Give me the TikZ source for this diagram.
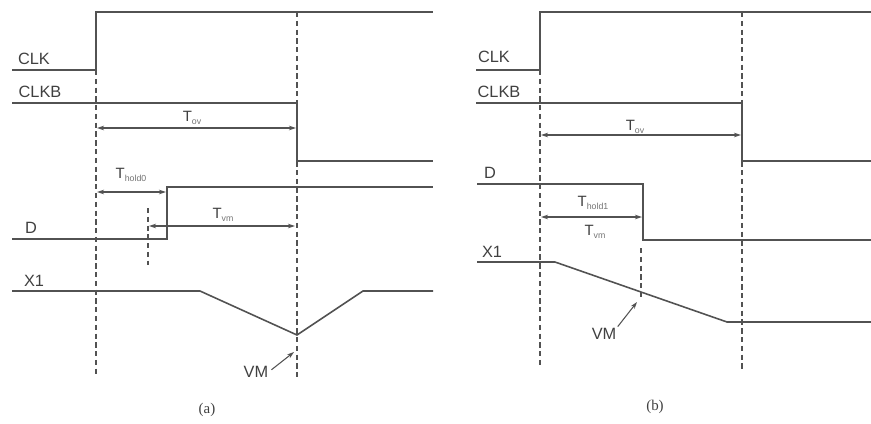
\documentclass[tikz,border=0pt]{standalone}
\usepackage{fontspec}
\setmainfont{Liberation Serif}
\setsansfont{Liberation Sans}
\usetikzlibrary{arrows.meta, positioning}
\tikzstyle{signal} = [draw=black!68, line width=0.9pt]
\tikzstyle{guide} = [draw=black!68, line width=0.6pt, dash pattern=on 3pt off 2pt]
\tikzstyle{dimarrow} = [draw=black!68, line width=0.6pt, {Stealth[length=4pt,width=2.6pt]}-{Stealth[length=4pt,width=2.6pt]}]
\tikzstyle{pointer} = [draw=black!68, line width=0.6pt, -{Stealth[length=4pt,width=2.6pt]}]
\tikzstyle{siglabel} = [font=\sffamily\fontsize{9.3}{11}\selectfont, text=black!75, inner sep=0pt]
\tikzstyle{timelabel} = [font=\sffamily\fontsize{8.5}{10}\selectfont, text=black!75, inner sep=0pt]
\tikzstyle{caption} = [font=\fontsize{8.5}{10}\selectfont, text=black!75, inner sep=0pt]
\newcommand{\tsub}[1]{T\raisebox{-0.45ex}{\fontsize{5}{6}\selectfont\color{black!55}#1}}

\begin{document}
\begin{tikzpicture}[x=0.02cm, y=-0.02cm]
\useasboundingbox (0,0) rectangle (871,423);

% (a) waveforms
\draw [signal] (12,70) -- (96,70) -- (96,12) -- (433,12);
\draw [signal] (12,103) -- (297,103) -- (297,161) -- (433,161);
\draw [signal] (12,239) -- (167,239) -- (167,187) -- (433,187);
\draw [signal] (12,291) -- (200,291) -- (297,335) -- (363,291) -- (433,291);

% (a) guides
\draw [guide] (96,70) -- (96,377);
\draw [guide] (297,12) -- (297,377);
\draw [guide] (148,208) -- (148,265);

% (a) labels
\node (clkA) [siglabel] at (34,59) {CLK};
\node (clkbA) [siglabel] at (40,92) {CLKB};
\node (dA) [siglabel] at (31,228) {D};
\node (xA) [siglabel] at (34,281) {X1};
\node (ovA) [timelabel] at (192,118) {\tsub{ov}};
\node (holdA) [timelabel] at (131,175) {\tsub{hold0}};
\node (vmtA) [timelabel] at (223,215) {\tsub{vm}};
\node (vmA) [siglabel] at (256,372) {VM};
\node (capA) [caption] at (207,410) {(a)};

% (a) timing arrows
\coordinate (ovAl) at (97,128);
\coordinate (ovAr) at (296,128);
\coordinate (holdAl) at (97,192);
\coordinate (holdAr) at (166,192);
\coordinate (vmtAl) at (149,226);
\coordinate (vmtAr) at (295,226);
\coordinate (vmAtip) at (294,352);
\draw [dimarrow] (ovAl) -- (ovAr);
\draw [dimarrow] (holdAl) -- (holdAr);
\draw [dimarrow] (vmtAl) -- (vmtAr);
\draw [pointer, shorten <=2pt] (vmA.east) -- (vmAtip);

% (b) waveforms
\draw [signal] (476,70) -- (540,70) -- (540,12) -- (871,12);
\draw [signal] (476,103) -- (742,103) -- (742,161) -- (871,161);
\draw [signal] (477,184) -- (643,184) -- (643,240) -- (871,240);
\draw [signal] (477,262) -- (555,262) -- (727,322) -- (871,322);

% (b) guides
\draw [guide] (540,70) -- (540,367);
\draw [guide] (742,12) -- (742,372);
\draw [guide] (641,248) -- (641,297);

% (b) labels
\node (clkB) [siglabel] at (494,57) {CLK};
\node (clkbB) [siglabel] at (499,92) {CLKB};
\node (dB) [siglabel] at (490,173) {D};
\node (xB) [siglabel] at (492,252) {X1};
\node (ovB) [timelabel] at (635,127) {\tsub{ov}};
\node (holdB) [timelabel] at (593,203) {\tsub{hold1}};
\node (vmtB) [timelabel] at (595,232) {\tsub{vm}};
\node (vmB) [siglabel] at (604,334) {VM};
\node (capB) [caption] at (655,407) {(b)};

% (b) timing arrows
\coordinate (ovBl) at (541,135);
\coordinate (ovBr) at (741,135);
\coordinate (holdBl) at (541,217);
\coordinate (holdBr) at (642,217);
\coordinate (vmBtip) at (637,302);
\draw [dimarrow] (ovBl) -- (ovBr);
\draw [dimarrow] (holdBl) -- (holdBr);
\draw [pointer, shorten <=1pt] (vmB.north east) -- (vmBtip);

\end{tikzpicture}
\end{document}
